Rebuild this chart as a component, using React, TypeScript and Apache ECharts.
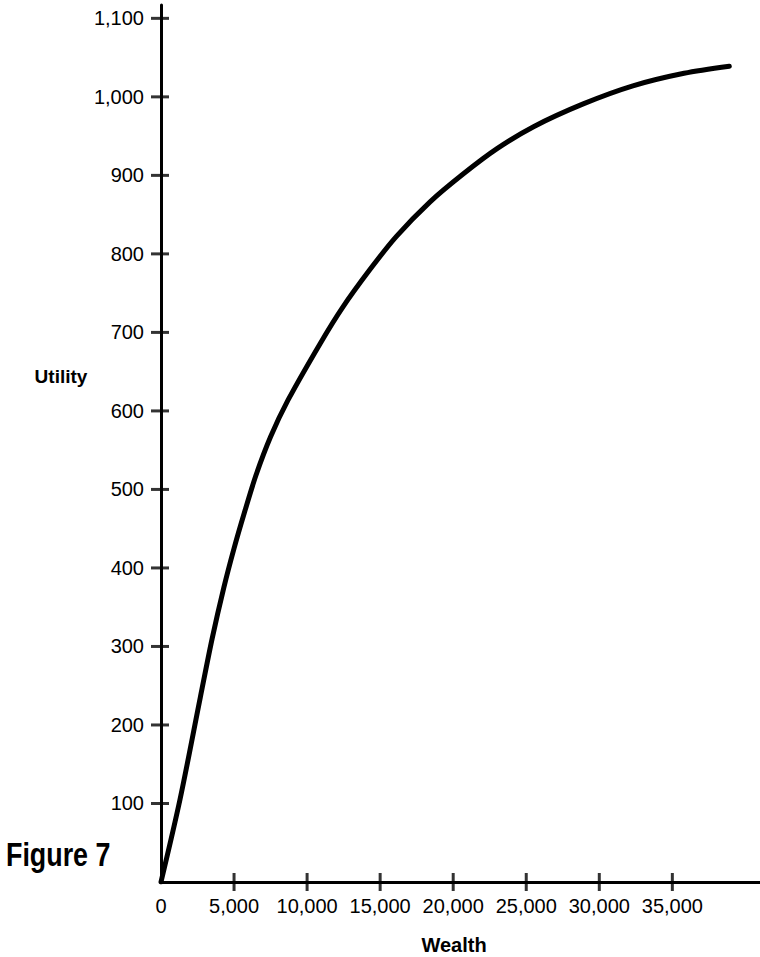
import React, { useEffect, useRef } from "react";
import * as echarts from "echarts";

const wealth = [0, 1300, 2700, 3500, 4300, 5000, 5700, 6500, 7500, 8700, 10900, 12400, 14300, 16100, 18400, 20700, 23000, 25500, 28900, 32300, 35800, 38900];
const utility = [0, 105, 236, 310, 375, 425, 470, 518, 567, 614, 686, 731, 780, 822, 866, 902, 934, 962, 991, 1014, 1030, 1039];
const xTicks = [5000, 10000, 15000, 20000, 25000, 30000, 35000];
const xLabels = [0, 5000, 10000, 15000, 20000, 25000, 30000, 35000];
const yTicks = [100, 200, 300, 400, 500, 600, 700, 800, 900, 1000, 1100];

const FONT = '"Liberation Sans", Arial, Helvetica, sans-serif';
const fmt = (v: number) => v.toLocaleString("en-US");

export default function App() {
  const ref = useRef<HTMLDivElement>(null);
  useEffect(() => {
    document.body.style.margin = "0";
    const chart = echarts.init(ref.current!, null, { renderer: "svg" });
    chart.setOption({
      animation: false,
      grid: { left: 161, right: 0, top: 5, bottom: 75, containLabel: false },
      xAxis: {
        type: "value",
        min: 0,
        max: 41000,
        splitLine: { show: false },
        axisLine: { show: true, lineStyle: { color: "#000", width: 3 } },
        axisTick: { show: false },
        axisLabel: {
          customValues: xLabels,
          formatter: (v: number) => fmt(v),
          color: "#000",
          fontFamily: FONT,
          fontSize: 20,
          margin: 14,
        },
      },
      yAxis: {
        type: "value",
        min: 0,
        max: 1117,
        splitLine: { show: false },
        axisLine: { show: true, lineStyle: { color: "#000", width: 3 } },
        axisTick: { show: false },
        axisLabel: {
          customValues: yTicks,
          formatter: (v: number) => fmt(v),
          color: "#000",
          fontFamily: FONT,
          fontSize: 20,
          margin: 17,
        },
      },
      series: [
        {
          type: "line",
          data: wealth.map((w, i) => [w, utility[i]]),
          smooth: 0.3,
          showSymbol: false,
          silent: true,
          lineStyle: { color: "#000", width: 5, cap: "round" },
        },
        {
          type: "scatter",
          data: yTicks.map((v) => [0, v]),
          symbol: "rect",
          symbolSize: [18, 3],
          symbolOffset: [-1, 0],
          itemStyle: { color: "#000" },
          clip: false,
          silent: true,
        },
        {
          type: "scatter",
          data: xTicks.map((w) => [w, 0]),
          symbol: "rect",
          symbolSize: [3, 18],
          itemStyle: { color: "#000" },
          clip: false,
          silent: true,
        },
      ],
      graphic: [
        {
          type: "text",
          x: 6,
          y: 837,
          scaleX: 0.79,
          style: { text: "Figure 7", font: `bold 34px ${FONT}`, fill: "#000" },
        },
        {
          type: "text",
          x: 61,
          y: 376,
          style: { text: "Utility", font: `bold 19px ${FONT}`, fill: "#000", align: "center", verticalAlign: "middle" },
        },
        {
          type: "text",
          x: 454,
          y: 945,
          style: { text: "Wealth", font: `bold 20px ${FONT}`, fill: "#000", align: "center", verticalAlign: "middle" },
        },
      ],
    });
    return () => chart.dispose();
  }, []);
  return <div ref={ref} style={{ width: 760, height: 957 }} />;
}
